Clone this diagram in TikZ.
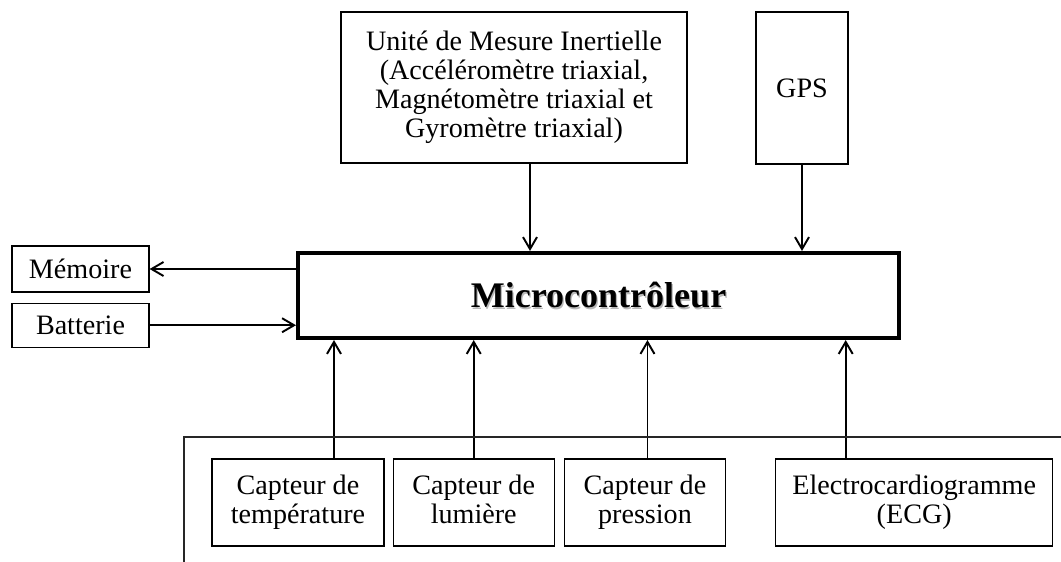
\documentclass[tikz,border=0pt]{standalone}
\usepackage{fontspec}
\setmainfont{Liberation Serif}
\usepackage{xcolor}
\usetikzlibrary{arrows.meta,calc,positioning}

\begin{document}
\begin{tikzpicture}[>={Straight Barb[length=2.4mm,width=2.8mm]},
  block/.style={rectangle,draw,line width=0.7pt,inner sep=2pt,align=center,font=\fontsize{16}{16.5}\selectfont,
    execute at begin node={\rule{0pt}{14.5pt}},execute at end node={\rule[-3.9pt]{0pt}{3.9pt}}},
  sensor/.style={block,minimum height=1.74cm},
  pfeil/.style={->,line width=1.1pt}]
\useasboundingbox (0,0) rectangle (21.22,-11.24);

% Mikrocontroller mit Schatten
\node[text=black!28,font=\fontsize{20.5}{24}\selectfont\bfseries] (microshadow) at (11.995,-5.935) {Microcontrôleur};
\node[draw,line width=2.3pt,minimum width=12.02cm,minimum height=1.7cm,font=\fontsize{20.5}{24}\selectfont\bfseries] (micro) at (11.97,-5.91) {Microcontrôleur};

\node[block,minimum width=6.92cm,minimum height=3.02cm] (imu) at (10.28,-1.75) {Unité de Mesure Inertielle\\(Accéléromètre triaxial,\\Magnétomètre triaxial et\\Gyromètre triaxial)};
\node[block,minimum width=1.84cm,minimum height=3.04cm] (gps) at (16.04,-1.76) {GPS};

\node[block,minimum width=2.74cm,minimum height=0.92cm] (memoire) at (1.61,-5.38) {Mémoire};
\node[block,minimum width=2.74cm,minimum height=0.88cm] (batterie) [below=0.2cm of memoire] {Batterie};

\node[sensor,minimum width=3.44cm] (temp) at (5.96,-10.05) {Capteur de\\température};
\node[sensor,minimum width=3.22cm] (lumiere) [right=0.16cm of temp] {Capteur de\\lumière};
\node[sensor,minimum width=3.22cm] (pression) [right=0.18cm of lumiere] {Capteur de\\pression};
\node[sensor,minimum width=5.54cm] (ecg) [right=0.98cm of pression] {Electrocardiogramme\\(ECG)};

\draw[pfeil] (micro.west |- memoire.east) -- (memoire.east);
\draw[pfeil] (batterie.east) -- (micro.west |- batterie.east);

\draw[pfeil] ([xshift=0.32cm]imu.south) -- ([xshift=0.32cm]imu.south |- micro.north);
\draw[pfeil] (gps.south) -- (gps.south |- micro.north);

\draw[pfeil] ([xshift=0.72cm]temp.north) -- ([xshift=0.72cm]temp.north |- micro.south);
\draw[pfeil] (lumiere.north) -- (lumiere.north |- micro.south);
\draw[pfeil] ([xshift=0.05cm]pression.north) -- ([xshift=0.05cm]pression.north |- micro.south);
\draw[pfeil] ([xshift=-1.37cm]ecg.north) -- ([xshift=-1.37cm]ecg.north |- micro.south);

\draw[line width=0.6pt,black!85] (3.68,-11.24) -- (3.68,-8.74) -- (21.22,-8.74);

\end{tikzpicture}
\end{document}
